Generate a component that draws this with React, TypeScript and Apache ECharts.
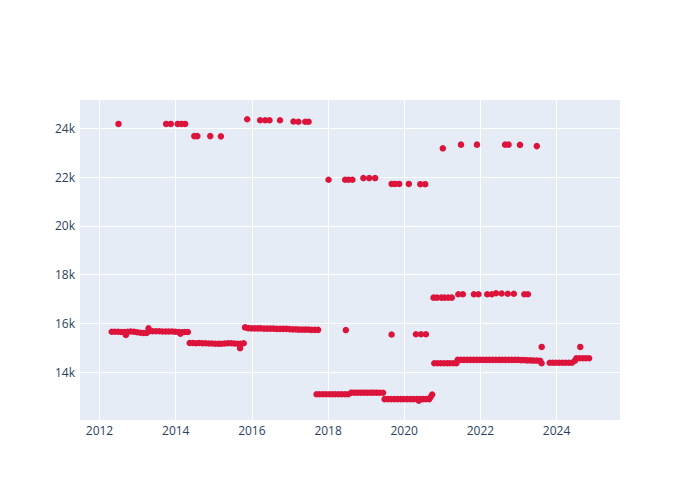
import React, { useEffect, useRef } from 'react';
import * as echarts from 'echarts';

// Dense runs: start date + one value per month
const runAStart = '2012-04-27';
const runA = [15660, 15660, 15660, 15650, 15650, 15660, 15670, 15660, 15640, 15620, 15610, 15610, 15690, 15680, 15680, 15680, 15670, 15670, 15670, 15670, 15660, 15650, 15640, 15650, 15650];
const runBStart = '2014-05-15';
const runB = [15200, 15200, 15190, 15200, 15190, 15190, 15180, 15180, 15170, 15170, 15170, 15180, 15190, 15190, 15180, 15170, 15170, 15190];
const runCStart = '2015-10-27';
const runC = [15840, 15810, 15800, 15800, 15800, 15800, 15790, 15790, 15790, 15790, 15780, 15780, 15780, 15780, 15770, 15760, 15760, 15750, 15750, 15750, 15750, 15740, 15740, 15740];
const runDStart = '2017-09-12';
const runD = [13100, 13100, 13100, 13100, 13100, 13100, 13100, 13100, 13100, 13100, 13100, 13165, 13165, 13165, 13165, 13165, 13165, 13165, 13165, 13165, 13160, 13160];
const runEStart = '2019-06-27';
const runE = [12900, 12900, 12900, 12900, 12900, 12900, 12900, 12900, 12900, 12900, 12900, 12900, 12900, 12900, 12900];
const runFStart = '2020-10-15';
const runF = [14370, 14370, 14370, 14370, 14370, 14370, 14370, 14370];
const runGStart = '2021-05-27';
const runG = [14510, 14510, 14510, 14510, 14510, 14510, 14510, 14510, 14510, 14510, 14510, 14510, 14510, 14510, 14510, 14510, 14510, 14510, 14510, 14510, 14500, 14500, 14490, 14490, 14480, 14480, 14470];
const runHStart = '2023-10-27';
const runH = [14390, 14390, 14390, 14390, 14390, 14390, 14390, 14390];
const runIStart = '2024-07-08';
const runI = [14575, 14575, 14575, 14575, 14575];

// Individual points
const pointDates = [
  '2012-07-01', '2013-10-01', '2013-11-14', '2014-01-20', '2014-02-25', '2014-04-01',
  '2014-06-28', '2014-07-27', '2014-11-28', '2015-03-10',
  '2015-11-17', '2016-03-20', '2016-05-08', '2016-06-18', '2016-09-27',
  '2017-02-03', '2017-03-22', '2017-05-27', '2017-06-28',
  '2018-01-05', '2018-06-13', '2018-07-16', '2018-08-22',
  '2018-12-05', '2019-01-30', '2019-03-28',
  '2019-09-02', '2019-10-05', '2019-11-14', '2020-02-14', '2020-06-03', '2020-07-20',
  '2021-01-05', '2021-06-28', '2021-11-28', '2022-08-25', '2022-09-27', '2023-01-15', '2023-06-25',
  '2020-10-08', '2020-11-10', '2020-12-22', '2021-01-20', '2021-02-25', '2021-04-01',
  '2021-06-03', '2021-07-16', '2021-10-30', '2021-12-13', '2022-03-07', '2022-04-20', '2022-05-30',
  '2022-07-23', '2022-09-20', '2022-11-17', '2023-02-25', '2023-04-01',
  '2019-09-02', '2020-04-22', '2020-06-10', '2020-07-27',
  '2023-08-11', '2024-08-15', '2018-06-20',
  '2012-09-10', '2013-04-15', '2014-02-15', '2015-09-10', '2020-05-20', '2020-09-10', '2020-09-25',
  '2023-08-10', '2024-06-25',
];
const pointValues = [
  24180, 24180, 24180, 24180, 24180, 24180,
  23680, 23680, 23680, 23670,
  24370, 24330, 24330, 24330, 24330,
  24280, 24270, 24270, 24270,
  21890, 21890, 21890, 21890,
  21960, 21960, 21960,
  21720, 21720, 21720, 21720, 21710, 21710,
  23180, 23330, 23330, 23330, 23330, 23320, 23270,
  17060, 17060, 17060, 17060, 17060, 17060,
  17200, 17200, 17200, 17200, 17200, 17200, 17240,
  17230, 17220, 17220, 17200, 17200,
  15550, 15560, 15560, 15560,
  15040, 15040, 15730,
  15530, 15800, 15580, 14990, 12840, 12990, 13090,
  14370, 14480,
];

const xTicks = ['2012-01-01', '2014-01-01', '2016-01-01', '2018-01-01', '2020-01-01', '2022-01-01', '2024-01-01'];
const yTicks = [14000, 16000, 18000, 20000, 22000, 24000];

function expand(start: string, values: number[]): [number, number][] {
  return values.map((v, i) => {
    const d = new Date(start);
    d.setUTCMonth(d.getUTCMonth() + i);
    return [d.getTime(), v];
  });
}

export default function App() {
  const ref = useRef<HTMLDivElement>(null);
  useEffect(() => {
    if (!ref.current) return;
    const chart = echarts.init(ref.current, null, { renderer: 'svg' });
    const data: [number, number][] = [
      ...expand(runAStart, runA),
      ...expand(runBStart, runB),
      ...expand(runCStart, runC),
      ...expand(runDStart, runD),
      ...expand(runEStart, runE),
      ...expand(runFStart, runF),
      ...expand(runGStart, runG),
      ...expand(runHStart, runH),
      ...expand(runIStart, runI),
      ...pointDates.map((d, i) => [Date.parse(d), pointValues[i]] as [number, number]),
    ];
    const font = '"Open Sans", verdana, arial, sans-serif';
    const xTickMs = xTicks.map((d) => Date.parse(d));
    chart.setOption({
      animation: false,
      backgroundColor: '#ffffff',
      grid: {
        left: 80, right: 80, top: 100, bottom: 80,
        show: true, backgroundColor: '#E5ECF6', borderWidth: 0,
      },
      xAxis: {
        type: 'value',
        min: Date.UTC(2011, 5, 28),
        max: Date.UTC(2025, 7, 31),
        axisLine: { show: false },
        axisTick: { show: false, customValues: xTickMs },
        splitLine: { show: true, lineStyle: { color: '#ffffff', width: 1 } },
        axisLabel: {
          customValues: xTickMs,
          formatter: (v: number) => String(new Date(v).getUTCFullYear()),
          color: '#2a3f5f', fontSize: 12, fontFamily: font, margin: 4,
        },
      },
      yAxis: {
        type: 'value',
        min: 12045,
        max: 25160,
        axisLine: { show: false },
        axisTick: { show: false, customValues: yTicks },
        splitLine: { show: true, lineStyle: { color: '#ffffff', width: 1 } },
        axisLabel: {
          customValues: yTicks,
          formatter: (v: number) => v / 1000 + 'k',
          color: '#2a3f5f', fontSize: 12, fontFamily: font, margin: 5,
        },
      },
      series: [
        {
          type: 'scatter',
          data,
          symbol: 'circle',
          symbolSize: 6.5,
          itemStyle: { color: '#DC143C', opacity: 1 },
        },
      ],
    });
    return () => chart.dispose();
  }, []);
  return <div ref={ref} style={{ width: 700, height: 500, position: 'absolute', left: 0, top: 0 }} />;
}
